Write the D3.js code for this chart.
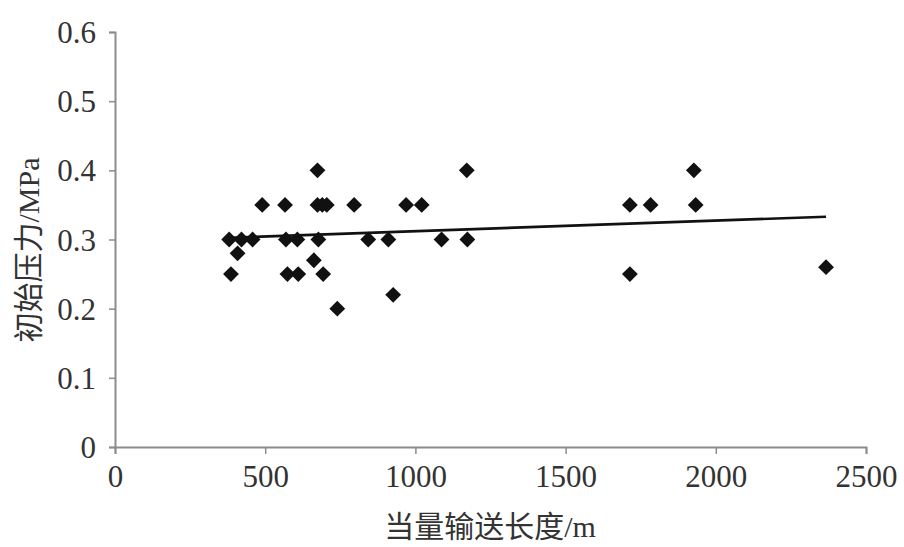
<!DOCTYPE html>
<html>
<head>
<meta charset="utf-8">
<script src="https://cdn.jsdelivr.net/npm/d3@7"></script>
<style>
  html, body { margin: 0; padding: 0; background: #fff; }
  svg { display: block; }
  text { font-family: "Liberation Serif", "Noto Sans CJK SC", serif; fill: #333; }
</style>
</head>
<body>
<svg id="chart" width="904" height="547"></svg>
<script>
// Data
const lengthM = [380, 386, 408, 421, 458, 490, 566, 569, 574, 607, 610, 662, 674, 674, 690, 705, 677, 693,
                 740, 796, 843, 910, 926, 969, 1021, 1087, 1171, 1173, 1714, 1714, 1783, 1927, 1933, 2367];
const pressureMPa = [0.30, 0.25, 0.28, 0.30, 0.30, 0.35, 0.35, 0.30, 0.25, 0.30, 0.25, 0.27, 0.40, 0.35, 0.35, 0.35, 0.30, 0.25,
                     0.20, 0.35, 0.30, 0.30, 0.22, 0.35, 0.35, 0.30, 0.40, 0.30, 0.35, 0.25, 0.35, 0.40, 0.35, 0.26];
// Trendline end points
const trendX = [380, 2367];
const trendY = [0.3025, 0.333];
const xTicks = [0, 500, 1000, 1500, 2000, 2500];
const yTicks = [0, 0.1, 0.2, 0.3, 0.4, 0.5, 0.6];
const xTitle = "当量输送长度/m";
const yTitle = "初始压力/MPa";

const svg = d3.select("#chart");
const x = d3.scaleLinear().domain([0, 2500]).range([115, 866]);
const y = d3.scaleLinear().domain([0, 0.6]).range([447, 32]);

const axisColor = "#8c8c8c";

// X axis
const gx = svg.append("g").attr("transform", `translate(0,${y(0)})`)
  .call(d3.axisBottom(x).tickValues(xTicks).tickFormat(d3.format("d")).tickSizeOuter(0).tickSize(7).tickPadding(10));
// Y axis
const gy = svg.append("g").attr("transform", `translate(${x(0)},0)`)
  .call(d3.axisLeft(y).tickValues(yTicks).tickFormat(d => d === 0 ? "0" : d3.format(".1f")(d)).tickSizeOuter(0).tickSize(6).tickPadding(13));

[gx, gy].forEach(g => {
  g.select(".domain").attr("stroke", axisColor).attr("stroke-width", 2);
  g.selectAll(".tick line").attr("stroke", axisColor).attr("stroke-width", 1.5);
  g.selectAll(".tick text").attr("fill", "#333").style("font-size", "31px")
    .style("font-family", "'Liberation Serif', serif");
});
gy.selectAll(".tick text").attr("dy", "0.34em");
gx.selectAll(".tick text").attr("dy", "0.75em");

// Titles
svg.append("text").attr("x", 490).attr("y", 537).attr("text-anchor", "middle")
  .style("font-size", "30px").text(xTitle);
svg.append("text").attr("transform", `translate(39,250) rotate(-90)`).attr("text-anchor", "middle")
  .style("font-size", "30px").text(yTitle);

// Linear trendline
svg.append("path")
  .attr("d", d3.line().x(d => x(d[0])).y(d => y(d[1]))(trendX.map((v, i) => [v, trendY[i]])))
  .attr("stroke", "#111").attr("stroke-width", 2.6).attr("fill", "none");

// Points
const sym = d3.symbol().type(d3.symbolSquare).size(125);
svg.append("g").selectAll("path").data(lengthM.map((v, i) => [v, pressureMPa[i]])).join("path")
  .attr("d", sym)
  .attr("transform", d => `translate(${x(d[0])},${y(d[1])}) rotate(45)`)
  .attr("fill", "#111");
</script>
</body>
</html>
